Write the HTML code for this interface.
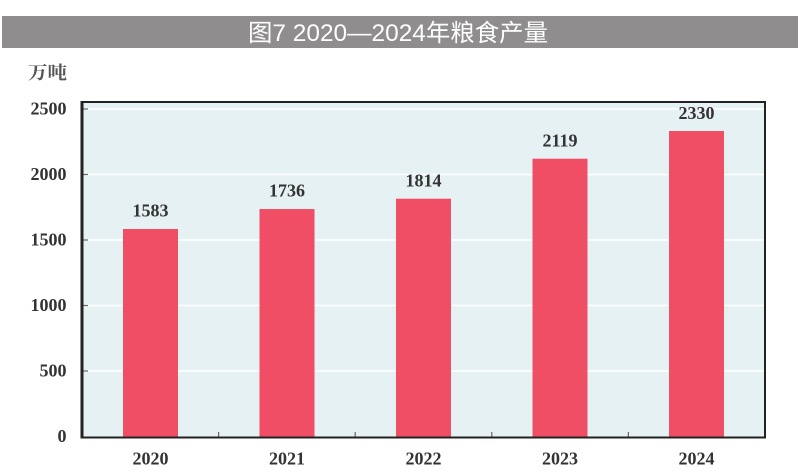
<!DOCTYPE html>
<html><head><meta charset="utf-8"><style>
html,body{margin:0;padding:0;background:#fff;}
svg{display:block;}
</style></head><body>
<svg width="800" height="471" viewBox="0 0 800 471" xmlns="http://www.w3.org/2000/svg">
<rect x="0" y="0" width="800" height="471" fill="#ffffff"/>
<rect x="2" y="16" width="796" height="32" fill="#8f8d8e"/>
<text x="398" y="41" text-anchor="middle" font-family="'Liberation Sans','Noto Sans CJK SC',sans-serif" font-size="24" fill="#ffffff" textLength="300" lengthAdjust="spacingAndGlyphs">图7 2020—2024年粮食产量</text>
<text x="28" y="79" font-family="'Liberation Serif','Noto Serif CJK SC',serif" font-weight="bold" font-size="18" fill="#555" textLength="39" lengthAdjust="spacingAndGlyphs">万吨</text>
<rect x="82" y="102" width="683" height="335" fill="#e6f1f3"/>
<g stroke="#ffffff" stroke-width="1.5">
<line x1="83" y1="109" x2="764" y2="109"/>
<line x1="83" y1="174.5" x2="764" y2="174.5"/>
<line x1="83" y1="240" x2="764" y2="240"/>
<line x1="83" y1="305.5" x2="764" y2="305.5"/>
<line x1="83" y1="371" x2="764" y2="371"/>
</g>
<g fill="#ef4e65">
<rect x="123" y="229" width="55" height="208"/>
<rect x="259.5" y="209" width="55" height="228"/>
<rect x="396" y="198.7" width="55" height="238.3"/>
<rect x="532.5" y="158.7" width="55" height="278.3"/>
<rect x="669" y="131" width="55" height="306"/>
</g>
<g stroke="#666" stroke-width="1.2">
<line x1="83" y1="109" x2="88" y2="109"/>
<line x1="83" y1="174.5" x2="88" y2="174.5"/>
<line x1="83" y1="240" x2="88" y2="240"/>
<line x1="83" y1="305.5" x2="88" y2="305.5"/>
<line x1="83" y1="371" x2="88" y2="371"/>
<line x1="218.6" y1="437" x2="218.6" y2="432"/>
<line x1="355.2" y1="437" x2="355.2" y2="432"/>
<line x1="491.8" y1="437" x2="491.8" y2="432"/>
<line x1="628.4" y1="437" x2="628.4" y2="432"/>
</g>
<rect x="82" y="102" width="683" height="335.5" fill="none" stroke="#222" stroke-width="2"/>
<line x1="82" y1="101" x2="82" y2="438.5" stroke="#222" stroke-width="3"/>
<g font-family="'Liberation Serif',serif" font-weight="bold" font-size="18" fill="#333">
<g text-anchor="end">
<text x="66.5" y="114.5">2500</text>
<text x="66.5" y="180">2000</text>
<text x="66.5" y="245.5">1500</text>
<text x="66.5" y="311">1000</text>
<text x="66.5" y="376.5">500</text>
<text x="66.5" y="442">0</text>
</g>
<g text-anchor="middle">
<text x="150.5" y="216.5">1583</text>
<text x="287" y="196.5">1736</text>
<text x="423.5" y="186.5">1814</text>
<text x="560" y="146.5">2119</text>
<text x="696.5" y="119">2330</text>
<text x="150.5" y="464.5">2020</text>
<text x="287" y="464.5">2021</text>
<text x="423.5" y="464.5">2022</text>
<text x="560" y="464.5">2023</text>
<text x="696.5" y="464.5">2024</text>
</g>
</g>
</svg>
</body></html>
